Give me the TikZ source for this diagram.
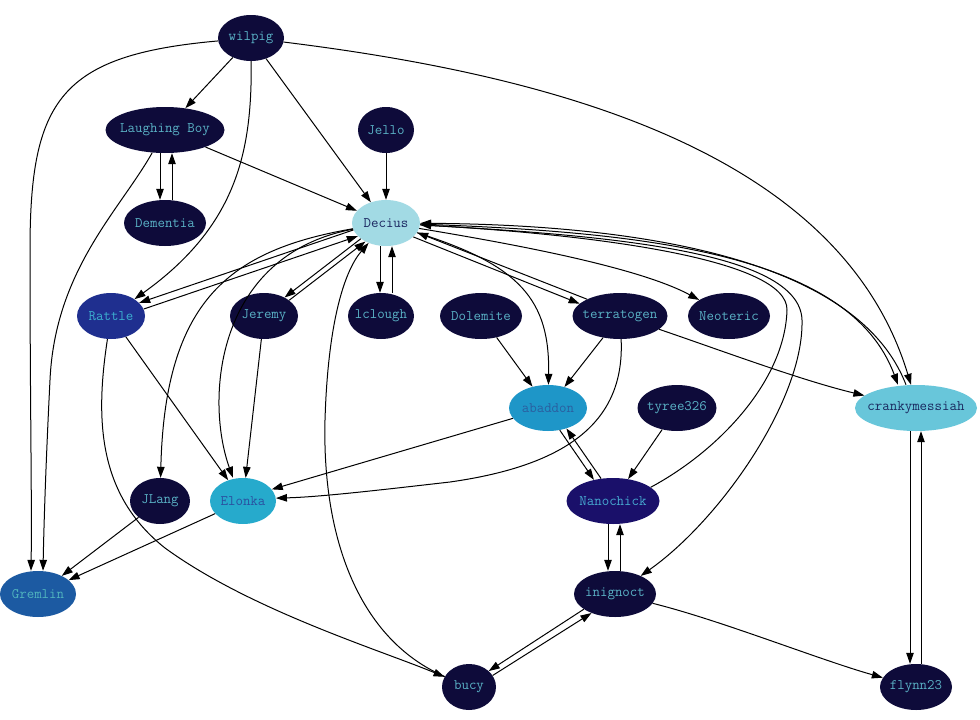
\documentclass[tikz,border=0pt]{standalone}
\usetikzlibrary{shapes.geometric,arrows.meta,calc}
\definecolor{dk}{HTML}{0E0B3A}
\definecolor{dktext}{HTML}{5AB2C6}
\definecolor{decfill}{HTML}{A2DAE4}
\definecolor{dectext}{HTML}{1A2660}
\definecolor{ratfill}{HTML}{1F2F8F}
\definecolor{rattext}{HTML}{3CB0D0}
\definecolor{abafill}{HTML}{1E96C8}
\definecolor{abatext}{HTML}{2A5FA0}
\definecolor{crafill}{HTML}{68C6DA}
\definecolor{cratext}{HTML}{1A2A60}
\definecolor{elofill}{HTML}{26AACC}
\definecolor{elotext}{HTML}{2A50A0}
\definecolor{nanfill}{HTML}{1A106A}
\definecolor{nantext}{HTML}{46A8D0}
\definecolor{grefill}{HTML}{1C5AA2}
\definecolor{gretext}{HTML}{50B4BE}
\newcommand{\gtext}[1]{\makebox[0pt][c]{#1}}
\begin{document}
\begin{tikzpicture}[x=1pt,y=-1pt,
  gnode/.style={ellipse, inner sep=0pt, minimum height=46pt, font=\ttfamily\fontsize{14.5}{16}\selectfont},
  dkn/.style={gnode, fill=dk, text=dktext},
  edge/.style={-{Triangle[length=11pt,width=7.5pt]}, line width=1pt, black},
]
\useasboundingbox (0,0) rectangle (980,720);
% nodes
\node[dkn, minimum width=66pt] (wil) at (251,38) {\gtext{wilpig}};
\node[dkn, minimum width=119pt] (LB) at (165,130) {\gtext{Laughing Boy}};
\node[dkn, minimum width=56pt] (Jel) at (386,130) {\gtext{Jello}};
\node[dkn, minimum width=82pt] (Dem) at (165,223) {\gtext{Dementia}};
\node[gnode, fill=decfill, text=dectext, minimum width=68pt] (Dec) at (386,223) {\gtext{Decius}};
\node[gnode, fill=ratfill, text=rattext, minimum width=68pt] (Rat) at (111,316) {\gtext{Rattle}};
\node[dkn, minimum width=68pt] (Jer) at (264,316) {\gtext{Jeremy}};
\node[dkn, minimum width=66pt] (lc) at (381,316) {\gtext{lclough}};
\node[dkn, minimum width=82pt] (Dol) at (481,316) {\gtext{Dolemite}};
\node[dkn, minimum width=95pt] (ter) at (620,316) {\gtext{terratogen}};
\node[dkn, minimum width=82pt] (Neo) at (729,316) {\gtext{Neoteric}};
\node[gnode, fill=abafill, text=abatext, minimum width=78pt] (aba) at (548,408) {\gtext{abaddon}};
\node[dkn, minimum width=79pt] (tyr) at (677,408) {\gtext{tyree326}};
\node[gnode, fill=crafill, text=cratext, minimum width=122pt] (cra) at (916,408) {\gtext{crankymessiah}};
\node[dkn, minimum width=60pt] (JL) at (160,501) {\gtext{JLang}};
\node[gnode, fill=elofill, text=elotext, minimum width=66pt] (Elo) at (243,501) {\gtext{Elonka}};
\node[gnode, fill=nanfill, text=nantext, minimum width=93pt] (Nan) at (613,501) {\gtext{Nanochick}};
\node[gnode, fill=grefill, text=gretext, minimum width=76pt] (Gre) at (38,594) {\gtext{Gremlin}};
\node[dkn, minimum width=82pt] (ini) at (615,594) {\gtext{inignoct}};
\node[dkn, minimum width=54pt] (buc) at (469,687) {\gtext{bucy}};
\node[dkn, minimum width=72pt] (fly) at (916,687) {\gtext{flynn23}};
% edges
\draw[edge] (wil) -- (LB);
\draw[edge] (wil) -- (Dec);
\draw[edge] (wil) .. controls (252,150) and (238,225) .. (Rat);
\draw[edge] (wil) .. controls (60,55) and (30,100) .. (30,250) .. controls (30,400) and (32,500) .. ([xshift=-7pt]Gre.north);
\draw[edge] (wil) .. controls (550,75) and (840,150) .. ([xshift=-5pt]cra.north);
\draw[edge] ([xshift=-5pt]LB.south) -- ([xshift=-5pt]Dem.north);
\draw[edge] ([xshift=7pt]Dem.north) -- ([xshift=7pt]LB.south);
\draw[edge] (LB) -- (Dec);
\draw[edge] (LB) .. controls (120,210) and (55,270) .. (50,380) .. controls (46,460) and (44,520) .. ([xshift=5pt]Gre.north);
\draw[edge] (Jel) -- (Dec);
\draw[edge] (Dec.192) -- (Rat.25);
\draw[edge] (Rat.12) -- (Dec.205);
\draw[edge] (Dec.212) -- (Jer.42);
\draw[edge] (Jer.32) -- (Dec.222);
\draw[edge] ([xshift=-6pt]Dec.south) -- ([xshift=-1pt]lc.north);
\draw[edge] ([xshift=11pt]lc.north) -- ([xshift=6pt]Dec.south);
\draw[edge] (Dec) .. controls (230,250) and (165,300) .. (JL);
\draw[edge] (Dec) .. controls (215,255) and (205,400) .. ([xshift=-10pt]Elo.north);
\draw[edge] (Dec) .. controls (520,245) and (640,268) .. (Neo);
\draw[edge] (Dec.333) -- (ter.163);
\draw[edge] (ter.153) -- (Dec.343);
\draw[edge] (Dec) .. controls (520,265) and (550,300) .. (aba);
\draw[edge] (Dec) .. controls (650,232) and (850,255) .. ([xshift=-18pt]cra.north);
\draw[edge] ([xshift=-10pt]cra.north) .. controls (860,265) and (660,225) .. (Dec);
\draw[edge] (Nan.20) .. controls (720,450) and (785,380) .. (787,310) .. controls (788,260) and (600,235) .. (Dec);
\draw[edge] (Dec) .. controls (600,235) and (800,250) .. (802,320) .. controls (804,400) and (720,520) .. (ini);
\draw[edge] (buc) .. controls (360,640) and (322,540) .. (325,420) .. controls (328,320) and (345,270) .. (Dec);
\draw[edge] (Rat) .. controls (95,420) and (98,495) .. (165,548) .. controls (250,610) and (380,650) .. (buc);
\draw[edge] (Rat) -- (Elo);
\draw[edge] (Jer) -- (Elo);
\draw[edge] (Dol) -- (aba);
\draw[edge] (ter) -- (aba);
\draw[edge] (ter) .. controls (720,350) and (800,380) .. (cra);
\draw[edge] (ter) .. controls (625,420) and (570,465) .. (450,482) .. controls (380,490) and (320,497) .. (Elo.5);
\draw[edge] (aba) -- (Elo.22);
\draw[edge] (aba.298) -- (Nan.132);
\draw[edge] (Nan.118) -- (aba.312);
\draw[edge] (tyr) -- (Nan);
\draw[edge] ([xshift=-6pt]cra.south) -- ([xshift=-6pt]fly.north);
\draw[edge] ([xshift=5pt]fly.north) -- ([xshift=5pt]cra.south);
\draw[edge] (JL) -- (Gre);
\draw[edge] (Elo) -- (Gre);
\draw[edge] ([xshift=-5pt]Nan.south) -- ([xshift=-7pt]ini.north);
\draw[edge] ([xshift=5pt]ini.north) -- ([xshift=7pt]Nan.south);
\draw[edge] (ini.206) -- (buc.39);
\draw[edge] (buc.26) -- (ini.219);
\draw[edge] (ini) .. controls (720,620) and (820,660) .. (fly);
\end{tikzpicture}
\end{document}
